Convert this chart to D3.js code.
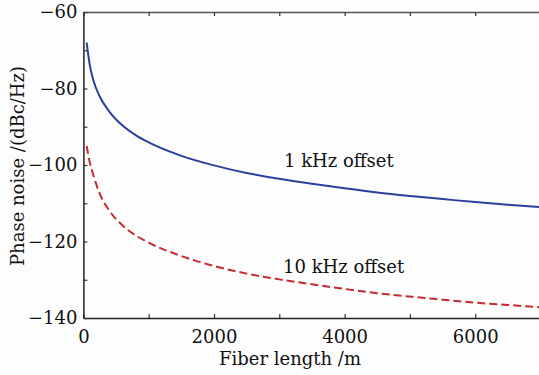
<!DOCTYPE html>
<html>
<head>
<meta charset="utf-8">
<script src="https://cdn.jsdelivr.net/npm/d3@7"></script>
<style>
  html, body { margin: 0; padding: 0; background: #fdfdfd; }
  svg { display: block; }
  text { font-family: "DejaVu Serif", "Liberation Serif", serif; fill: #111; }
</style>
</head>
<body>
<svg id="chart" width="539" height="375"></svg>
<script>
// Fiber length (m) at which phase noise is sampled
const fiberLength = [50, 100, 150, 250, 400, 600, 800, 1000, 1500, 2000, 2500, 3000, 3500, 4000, 4500, 5000, 5500, 6000, 6500, 7000];
// Phase noise at 1 kHz offset (dBc/Hz)
const noise1k = [-68, -74.1, -77.7, -82.1, -86.1, -89.7, -92.2, -94.1, -97.6, -100.1, -102.1, -103.6, -104.9, -106.1, -107.2, -108.1, -108.9, -109.7, -110.4, -111.0];
// Phase noise at 10 kHz offset (dBc/Hz)
const noise10k = [-95, -99.5, -102.5, -107.5, -112, -115.8, -118.4, -120.3, -123.8, -126.4, -128.4, -129.9, -131.2, -132.4, -133.5, -134.4, -135.2, -136.0, -136.6, -137.2];
const xTicks = [0, 1000, 2000, 3000, 4000, 5000, 6000, 7000];
const xTickLabels = ["0", "", "2000", "", "4000", "", "6000", ""];
const yTicks = [-140, -130, -120, -110, -100, -90, -80, -70, -60];
const yTickLabels = ["\u2212140", "", "\u2212120", "", "\u2212100", "", "\u221280", "", "\u221260"];
const seriesNames = ["1 kHz offset", "10 kHz offset"];

const svg = d3.select("#chart");
const plotLeft = 83.4, plotRight = 540.5, plotTop = 12, plotBottom = 318;

const x = d3.scaleLinear().domain([0, 7000]).range([plotLeft, plotRight]);
const y = d3.scaleLinear().domain([-140, -60]).range([plotBottom, plotTop]);

// Axes with inward ticks
function styleAxis(g) {
  g.select(".domain").attr("stroke", "#222").attr("stroke-width", 1.5);
  g.selectAll(".tick line").attr("stroke", "#333").attr("stroke-width", 1.2);
  g.selectAll(".tick text").style("font-size", "18px").attr("fill", "#111");
}

svg.append("g")
  .attr("transform", `translate(0,${plotBottom})`)
  .call(d3.axisBottom(x).tickValues(xTicks).tickSizeInner(-4).tickSizeOuter(0)
    .tickFormat((d, i) => xTickLabels[i]))
  .call(styleAxis)
  .call(g => g.selectAll(".tick text").attr("dy", "0.71em").attr("y", 12));

svg.append("g")
  .attr("transform", `translate(0,${plotTop})`)
  .call(d3.axisTop(x).tickValues(xTicks).tickSizeInner(-4).tickSizeOuter(0).tickFormat(""))
  .call(styleAxis)
  .call(g => g.select(".domain").attr("stroke", "#555"));

svg.append("g")
  .attr("transform", `translate(${plotLeft},0)`)
  .call(d3.axisLeft(y).tickValues(yTicks).tickSizeInner(-4).tickSizeOuter(0)
    .tickFormat((d, i) => yTickLabels[i]))
  .call(styleAxis)
  .call(g => g.selectAll(".tick text").attr("x", -6));

// Curves
const line = d3.line().x(d => x(d[0])).y(d => y(d[1])).curve(d3.curveMonotoneX);
svg.append("clipPath").attr("id", "plot")
  .append("rect").attr("x", plotLeft).attr("y", plotTop)
  .attr("width", plotRight - plotLeft).attr("height", plotBottom - plotTop);

svg.append("path")
  .datum(fiberLength.map((L, i) => [L, noise1k[i]]))
  .attr("clip-path", "url(#plot)")
  .attr("fill", "none").attr("stroke", "#2b3f9c").attr("stroke-width", 2)
  .attr("d", line);

svg.append("path")
  .datum(fiberLength.map((L, i) => [L, noise10k[i]]))
  .attr("clip-path", "url(#plot)")
  .attr("fill", "none").attr("stroke", "#c62a30").attr("stroke-width", 2)
  .attr("stroke-dasharray", "8,4")
  .attr("d", line);

// Series annotations
svg.append("text").attr("x", 284).attr("y", 167).style("font-size", "18px").text(seriesNames[0]);
svg.append("text").attr("x", 283).attr("y", 273).style("font-size", "18px").text(seriesNames[1]);

// Axis titles
svg.append("text").attr("x", 290).attr("y", 365).attr("text-anchor", "middle")
  .style("font-size", "18px").text("Fiber length /m");
svg.append("text").attr("transform", "translate(24,166) rotate(-90)").attr("text-anchor", "middle")
  .style("font-size", "18px").text("Phase noise /(dBc/Hz)");
</script>
</body>
</html>
